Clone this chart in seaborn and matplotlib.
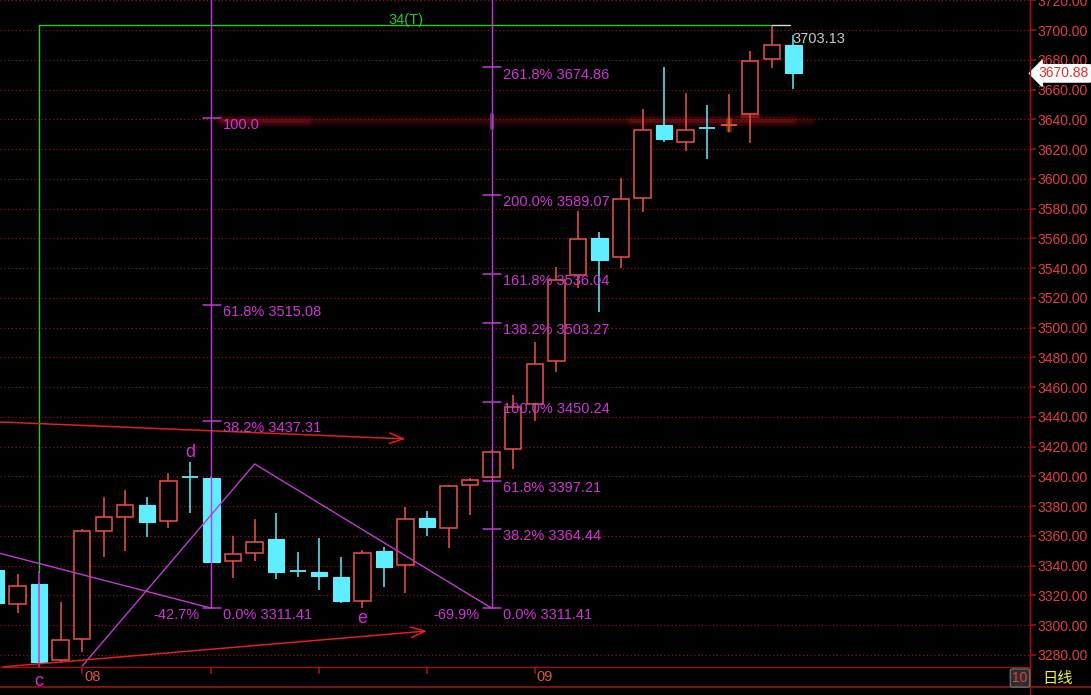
import numpy as np
import matplotlib
matplotlib.use("Agg")
import matplotlib.pyplot as plt
from matplotlib.lines import Line2D
import seaborn as sns

# ---------------- data ----------------
opens = [3337.1, 3314.3, 3327.7, 3276.6, 3290.8, 3363.3, 3372.7, 3380.8, 3370.0, 3400.0,
         3398.9, 3343.2, 3348.5, 3357.9, 3336.8, 3335.8, 3332.4, 3316.3, 3349.9, 3340.5,
         3372.1, 3365.3, 3394.2, 3399.6, 3418.5, 3448.7, 3477.6, 3535.4, 3560.2, 3547.5,
         3587.1, 3636.2, 3624.7, 3634.5, 3635.8, 3643.5, 3680.5, 3689.9]
closes = [3314.9, 3326.4, 3275.3, 3290.1, 3363.3, 3372.7, 3380.8, 3369.4, 3396.9, 3399.3,
          3342.5, 3347.9, 3355.9, 3335.8, 3336.1, 3333.1, 3316.3, 3348.5, 3339.1, 3371.4,
          3366.0, 3393.6, 3397.6, 3416.4, 3446.7, 3475.6, 3532.0, 3559.6, 3545.4, 3586.4,
          3632.8, 3626.8, 3632.8, 3633.8, 3636.5, 3679.2, 3689.9, 3670.88]
highs = [3339.8, 3334.4, 3328.5, 3315.6, 3364.7, 3386.2, 3390.9, 3386.2, 3402.3, 3409.7,
         3399.6, 3360.0, 3371.4, 3375.4, 3349.2, 3358.6, 3345.9, 3350.6, 3352.6, 3379.5,
         3376.8, 3394.2, 3398.9, 3417.8, 3454.7, 3490.3, 3540.8, 3578.4, 3564.3, 3600.5,
         3646.9, 3675.1, 3657.7, 3649.6, 3657.0, 3685.9, 3703.13, 3696.6]
lows = [3312.9, 3308.2, 3274.5, 3274.6, 3282.0, 3345.9, 3349.9, 3359.3, 3365.3, 3375.4,
        3341.8, 3331.7, 3343.2, 3331.1, 3332.4, 3323.7, 3314.9, 3311.41, 3325.7, 3321.7,
        3360.0, 3351.9, 3374.1, 3399.0, 3405.0, 3437.2, 3470.2, 3526.6, 3510.5, 3540.1,
        3577.7, 3624.7, 3618.7, 3613.3, 3631.5, 3624.1, 3674.5, 3660.4]

fib1_index = 10
fib1_pcts = ["0.0%", "38.2%", "61.8%", "100.0"]
fib1_values = [3311.41, 3437.31, 3515.08, 3640.97]
fib1_ext = "-42.7%"

fib2_index = 23
fib2_pcts = ["0.0%", "38.2%", "61.8%", "100.0%", "138.2%", "161.8%", "200.0%", "261.8%"]
fib2_values = [3311.41, 3364.44, 3397.21, 3450.24, 3503.27, 3536.04, 3589.07, 3674.86]
fib2_ext = "-69.9%"

tri_x = [4.0, 12.0, 23.0]
tri_y = [3272.5, 3408.4, 3311.41]
line_a_x = [0.0, 10.0]
line_a_y = [3349.0, 3311.41]
arrow_hi_x = [0.0, 19.0]
arrow_hi_y = [3436.7, 3425.2]
arrow_lo_x = [0.33, 20.0]
arrow_lo_y = [3272.0, 3296.1]

cycle_start, cycle_end = 2, 36
cycle_label = "34(T)"
high_value = 3703.13
last_close = 3670.88

y_ticks = list(range(3280, 3721, 20))
week_ticks = [4, 10, 15, 20, 25]
month_pos = [4, 25]
month_labels = ["08", "09"]
wave_names = ["c", "d", "e"]
wave_pos = [2, 9, 17]
wave_y = [3259.2, 3413.1, 3301.5]

# ---------------- style ----------------
sns.set_theme(style="dark", rc={"axes.facecolor": "black", "figure.facecolor": "black"})
plt.rcParams["font.family"] = ["Liberation Sans", "DejaVu Sans"]

RED = "#f05048"
CYAN = "#5eeeff"
GRID = "#8c1414"
AXRED = "#a01010"
MAG_LINE = "#c03ad4"
MAG_TXT = "#d034d4"
GREEN = "#28c828"

fig = plt.figure(figsize=(10.91, 6.95), dpi=100)
fig.patch.set_facecolor("black")
ax = fig.add_axes([0, 28 / 695, 1030 / 1091, 667 / 695])
ax.set_facecolor("black")
ax.set_xlim(0.186, 47.98)
ax.set_ylim(3271.9, 3720.2)

# grid
ax.set_yticks(y_ticks)
ax.set_yticklabels([f"{v:.2f}" for v in y_ticks])
ax.yaxis.tick_right()
ax.yaxis.grid(True, color=GRID, linestyle=(0, (1, 2)), linewidth=0.9)
ax.xaxis.grid(False)
ax.tick_params(axis="y", which="both", right=True, left=False, length=4, color=AXRED,
               labelcolor="#e04040", labelsize=10, pad=1, direction="out")
ax.set_xticks(week_ticks)
ax.set_xticklabels([""] * len(week_ticks))
ax.tick_params(axis="x", bottom=True, length=5, color=AXRED, direction="out")
for s in ["top", "left"]:
    ax.spines[s].set_visible(False)
for s in ["right", "bottom"]:
    ax.spines[s].set_color(AXRED)
    ax.spines[s].set_linewidth(1.0)

x = np.arange(len(opens))
o = np.array(opens); c = np.array(closes); h = np.array(highs); l = np.array(lows)
up = c >= o
top = np.maximum(o, c); bot = np.minimum(o, c)
W = 0.76

# faint glow band at the 100.0 level
for lw_, al in [(10, 0.10), (6, 0.16), (3, 0.22)]:
    ax.plot([10.5, 37.8], [3638.6, 3638.6], color="#701018", lw=lw_, alpha=al,
            solid_capstyle="round", zorder=1.2)
for lw_, al in [(7, 0.18), (3, 0.28)]:
    ax.plot([10.5, 14.5], [3638.6, 3638.6], color="#a01028", lw=lw_, alpha=al,
            solid_capstyle="round", zorder=1.3)
    ax.plot([29.5, 37.0], [3638.6, 3638.6], color="#901818", lw=lw_, alpha=al,
            solid_capstyle="round", zorder=1.3)

# wicks
ax.vlines(x, top, h, colors=np.where(up, RED, CYAN), lw=1.1, zorder=3)
ax.vlines(x, l, bot, colors=np.where(up, RED, CYAN), lw=1.1, zorder=3)
# bodies
for i in range(len(x)):
    if abs(c[i] - o[i]) < 1.0:
        ax.hlines((o[i] + c[i]) / 2, x[i] - W / 2, x[i] + W / 2,
                  colors=RED if up[i] else CYAN, lw=1.3, zorder=4)
    elif up[i]:
        ax.bar(x[i], top[i] - bot[i], bottom=bot[i], width=W, facecolor="black",
               edgecolor=RED, linewidth=1.1, zorder=4)
    else:
        ax.bar(x[i], top[i] - bot[i], bottom=bot[i], width=W, facecolor=CYAN,
               edgecolor=CYAN, linewidth=0.8, zorder=4)

# small glows around the 100.0 level
ax.plot([34, 34], [3632.5, 3639.5], color="#d06a20", lw=4, alpha=0.45, zorder=5)
ax.plot([35 - W / 2, 35 + W / 2], [3642.5, 3642.5], color="#ff3020", lw=3, alpha=0.4, zorder=5)

# cycle line (green)
ax.plot([cycle_start, cycle_start], [3336.0, high_value], color=GREEN, lw=1, zorder=6)
ax.plot([cycle_start, cycle_start], [3271.9, 3336.0], color=MAG_LINE, lw=1.1, zorder=6)
ax.plot([cycle_start, cycle_end], [high_value, high_value], color=GREEN, lw=1, zorder=6)
ax.plot([cycle_end, cycle_end + 0.84], [high_value, high_value], color="#d8d8d8", lw=1, zorder=6)
ax.annotate(cycle_label, (18.2, high_value), xytext=(0, 1), textcoords="offset points",
            color=GREEN, fontsize=10.5, ha="left", va="baseline", zorder=7)
ax.annotate(f"{high_value:.2f}", (cycle_end + 0.94, high_value), xytext=(0, -12.5),
            textcoords="offset points", color="#c8c8c8", fontsize=10.5, ha="left",
            va="baseline", zorder=7)

# magenta structure lines (seaborn)
sns.lineplot(x=line_a_x, y=line_a_y, color=MAG_LINE, lw=1, sort=False, estimator=None, ax=ax, zorder=6)
sns.lineplot(x=tri_x, y=tri_y, color=MAG_LINE, lw=1, sort=False, estimator=None, ax=ax, zorder=6)

# red arrows
for ax_x, ax_y in [(arrow_hi_x, arrow_hi_y), (arrow_lo_x, arrow_lo_y)]:
    ax.annotate("", xy=(ax_x[1], ax_y[1]), xytext=(ax_x[0], ax_y[0]),
                arrowprops=dict(arrowstyle="->,head_length=1.0,head_width=0.38",
                                mutation_scale=10, color="#e02020", lw=1.1,
                                shrinkA=0, shrinkB=0), zorder=6)

# Fibonacci tools
def fib(idx, pcts, values, ext):
    ax.plot([idx, idx], [values[0], 3725], color=MAG_LINE, lw=1.0, zorder=6, clip_on=True)
    for p, v in zip(pcts, values):
        ax.plot([idx - 0.38, idx + 0.42], [v, v], color=MAG_LINE, lw=1.1, zorder=6)
        lab = p if p == "100.0" else f"{p} {v:.2f}"
        ax.annotate(lab, (idx, v), xytext=(8.0, -8.0), textcoords="offset points",
                    color=MAG_TXT, fontsize=10.5, ha="left", va="baseline", zorder=7)
    ax.annotate(ext, (idx, values[0]), xytext=(-8.5, -8.0), textcoords="offset points",
                color=MAG_TXT, fontsize=10.5, ha="right", va="baseline", zorder=7)

fib(fib1_index, fib1_pcts, fib1_values, fib1_ext)
fib(fib2_index, fib2_pcts, fib2_values, fib2_ext)
ax.plot([fib2_index, fib2_index], [3634.0, 3643.0], color="#9a40b0", lw=3, alpha=0.7, zorder=6)

# wave labels
for n, px, py in zip(wave_names, wave_pos, wave_y):
    ax.text(px, py, n, color="#d828d8", fontsize=13, ha="center", va="baseline",
            zorder=8, clip_on=False)

# month labels
for px, lab in zip(month_pos, month_labels):
    ax.annotate(lab, (px, 3271.9), xytext=(1.5, -10.0), textcoords="offset points",
                color="#e05050", fontsize=10.5, ha="left", va="baseline", annotation_clip=False)

# last price tag
ax.annotate(f"{last_close:.2f}", (1.0, last_close), xycoords=("axes fraction", "data"),
            xytext=(6, 0), textcoords="offset points", color="#e03030", fontsize=10,
            ha="left", va="center", annotation_clip=False, zorder=10,
            bbox=dict(boxstyle="larrow,pad=0.12", fc="white", ec="white"))

# frame / footer
fig.add_artist(Line2D([0, 1], [1 - 687 / 695] * 2, color=AXRED, lw=1.2, transform=fig.transFigure))
fig.add_artist(Line2D([1030 / 1091] * 2, [0, 1], color=AXRED, lw=1.0, transform=fig.transFigure))
fig.text(1020 / 1091, 1 - 678 / 695, "10", color="#e04040", fontsize=10, ha="center", va="center",
         bbox=dict(boxstyle="round,pad=0.15", fc="#2e2e2e", ec="#7a7a7a", lw=0.8))
fig.text(1058 / 1091, 1 - 678 / 695, "日线", color="#f4f040", fontsize=11, ha="center", va="center",
         family=["Noto Sans CJK SC", "DejaVu Sans"])

fig.savefig("out.png", dpi=100, facecolor="black")
